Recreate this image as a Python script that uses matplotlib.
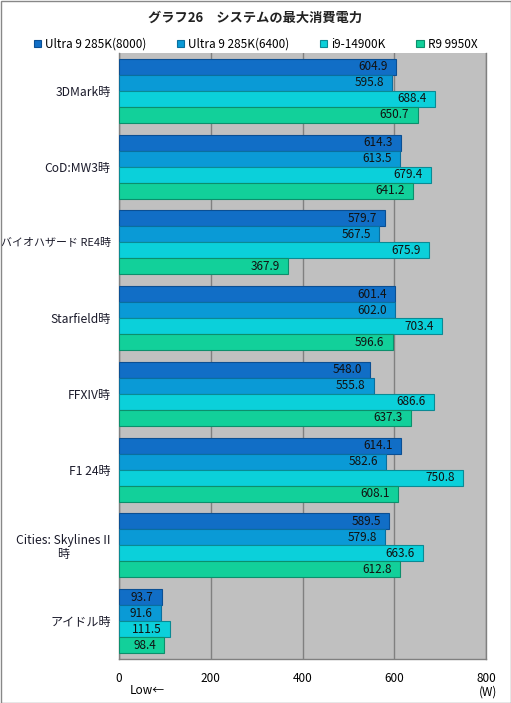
import matplotlib.pyplot as plt
import numpy as np

plt.rcParams['font.family'] = ['Noto Sans CJK JP', 'DejaVu Sans']

categories = ["3DMark時", "CoD:MW3時", "バイオハザード RE4時", "Starfield時",
              "FFXIV時", "F1 24時", "Cities: Skylines II\n時", "アイドル時"]
series_names = ["Ultra 9 285K(8000)", "Ultra 9 285K(6400)", "i9-14900K", "R9 9950X"]
ultra_8000 = [604.9, 614.3, 579.7, 601.4, 548.0, 614.1, 589.5, 93.7]
ultra_6400 = [595.8, 613.5, 567.5, 602.0, 555.8, 582.6, 579.8, 91.6]
i9_14900k = [688.4, 679.4, 675.9, 703.4, 686.6, 750.8, 663.6, 111.5]
r9_9950x = [650.7, 641.2, 367.9, 596.6, 637.3, 608.1, 612.8, 98.4]

series = [ultra_8000, ultra_6400, i9_14900k, r9_9950x]
colors = ["#116ec6", "#0a9ad6", "#0bd0da", "#12d09a"]
edges = ["#0b4f93", "#0a6f9e", "#0a8a94", "#0c8f6c"]

fig = plt.figure(figsize=(5.11, 7.03), dpi=100)
ax = fig.add_axes([119 / 511, 1 - 659 / 703, (486 - 119) / 511, (659 - 53) / 703])
ax.set_facecolor("#c0c0c0")

bh = 0.212
y = np.arange(len(categories))
for k, (vals, c, ec, name) in enumerate(zip(series, colors, edges, series_names)):
    pos = y - 1.5 * bh + k * bh
    ax.barh(pos, vals, height=bh, color=c, edgecolor=ec, linewidth=0.8,
            label=name, zorder=3)
    for p, v in zip(pos, vals):
        ax.annotate(f"{v:.1f}", xy=(v, p), xytext=(-6, 0), textcoords="offset points",
                    ha="right", va="center", fontsize=8.5, color="#111111", zorder=4)

ax.set_xlim(0, 800)
ax.set_ylim(len(categories) - 0.5, -0.5)
ax.set_xticks([0, 200, 400, 600, 800])
ax.set_xticklabels(["0", "200", "400", "600", "800"], fontsize=8.5)
ax.set_yticks(y)
ax.set_yticklabels(categories, fontsize=8.7, color="#1a1a2a", linespacing=1.1)
for lab in ax.get_yticklabels():
    lab.set_multialignment("center")
    if "RE4" in lab.get_text():
        lab.set_fontsize(7.9)
ax.tick_params(axis="y", length=0, pad=6)
ax.tick_params(axis="x", length=0, pad=9)
ax.grid(axis="x", color="#808080", linewidth=1, zorder=1)
ax.spines["top"].set_visible(False)
for s in ["left", "bottom", "right"]:
    ax.spines[s].set_color("#808080")
    ax.spines[s].set_linewidth(1)

fig.text(0.5, 1 - 18 / 703, "グラフ26　システムの最大消費電力", ha="center", va="center",
         fontsize=9.5, fontweight="bold", color="#222222")
fig.legend(loc="center", bbox_to_anchor=(0.5, 1 - 44 / 703), ncol=4, frameon=False,
           fontsize=8.5, handlelength=0.6, handleheight=0.6, handletextpad=0.35,
           columnspacing=2.6)
fig.text(130 / 511, 1 - 690 / 703, "Low←", ha="left", va="center", fontsize=8.5)
fig.text(488 / 511, 1 - 692 / 703, "(W)", ha="center", va="center", fontsize=8.5)

border = plt.Rectangle((0.5 / 511, 0.5 / 703), 1 - 1 / 511, 1 - 1 / 703, transform=fig.transFigure,
                       fill=False, edgecolor="#888888", linewidth=1)
fig.patches.append(border)

fig.savefig("out.png", dpi=100)
